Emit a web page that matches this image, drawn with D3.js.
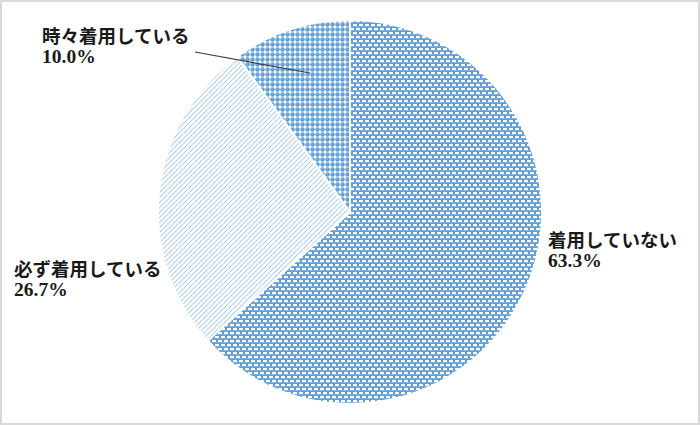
<!DOCTYPE html>
<html><head><meta charset="utf-8">
<script src="https://cdn.jsdelivr.net/npm/d3@7"></script>
<style>html,body{margin:0;padding:0;background:#fff;}</style>
</head><body>
<svg id="chart" width="700" height="425"></svg>
<script>
const categories = ["着用していない", "必ず着用している", "時々着用している"];
const values = [63.3, 26.7, 10.0];
const valueLabels = ["63.3%", "26.7%", "10.0%"];

const svg = d3.select("#chart");
const W = 700, H = 425;
svg.append("rect").attr("x",1).attr("y",1).attr("width",W-2).attr("height",H-2)
  .attr("fill","#fff").attr("stroke","#d9d9d9").attr("stroke-width",2);

const defs = svg.append("defs");
// pattern 0: blue with rows of white bricks
const p0 = defs.append("pattern").attr("id","p0").attr("patternUnits","userSpaceOnUse").attr("width",6).attr("height",8);
p0.append("rect").attr("width",6).attr("height",8).attr("fill","#5b9bd5");
p0.append("rect").attr("x",0).attr("y",0).attr("width",4).attr("height",2).attr("fill","#fff");
p0.append("rect").attr("x",3).attr("y",4).attr("width",3).attr("height",2).attr("fill","#fff");
p0.append("rect").attr("x",0).attr("y",4).attr("width",1).attr("height",2).attr("fill","#fff");
p0.append("rect").attr("x",0).attr("y",2.5).attr("width",6).attr("height",0.6).attr("fill","#9cc3ea");
p0.append("rect").attr("x",0).attr("y",6.5).attr("width",6).attr("height",0.6).attr("fill","#9cc3ea");
// pattern 1: white with light-blue diagonal dotted lines
const p1 = defs.append("pattern").attr("id","p1").attr("patternUnits","userSpaceOnUse").attr("width",5).attr("height",5);
p1.append("rect").attr("width",5).attr("height",5).attr("fill","#fff");
p1.append("path").attr("d","M-1,1 L1,-1 M0,5 L5,0 M4,6 L6,4").attr("stroke","#9ec4ea").attr("stroke-width",1.3)
  .attr("stroke-dasharray","1.2,0.6");
// pattern 2: blue dots grid
const p2 = defs.append("pattern").attr("id","p2").attr("patternUnits","userSpaceOnUse").attr("width",5).attr("height",5);
p2.append("rect").attr("width",5).attr("height",5).attr("fill","#fff");
p2.append("circle").attr("cx",2.5).attr("cy",2.5).attr("r",2.2).attr("fill","#5b9bd5");
p2.append("circle").attr("cx",2.0).attr("cy",2.0).attr("r",0.7).attr("fill","#9cc3ea");

const cx = 350, cy = 212, R = 192;
const pie = d3.pie().sort(null).value(d => d)(values);
const arc = d3.arc().innerRadius(0).outerRadius(R);
const g = svg.append("g").attr("transform", `translate(${cx},${cy})`);
g.selectAll("path").data(pie).join("path")
  .attr("d", arc)
  .attr("fill", (d,i) => `url(#p${i})`)
  .attr("stroke", "#fff").attr("stroke-width", 2);

// leader line for small slice
svg.append("line").attr("x1",195).attr("y1",52).attr("x2",310).attr("y2",73)
  .attr("stroke","#404040").attr("stroke-width",1.2);

const labelPos = [[548, 247], [14, 276], [42, 43]];
const font = "'Liberation Serif', 'Noto Sans CJK JP', serif";
labelPos.forEach((p,i) => {
  const common = t => t.attr("font-family",font).attr("font-weight","bold").attr("fill","#1a1a1a");
  common(svg.append("text").attr("x",p[0]).attr("y",p[1]).attr("font-size",18.5).text(categories[i]));
  common(svg.append("text").attr("x",p[0]).attr("y",p[1]+20).attr("font-size",19.5).text(valueLabels[i]));
});
</script>
</body></html>
